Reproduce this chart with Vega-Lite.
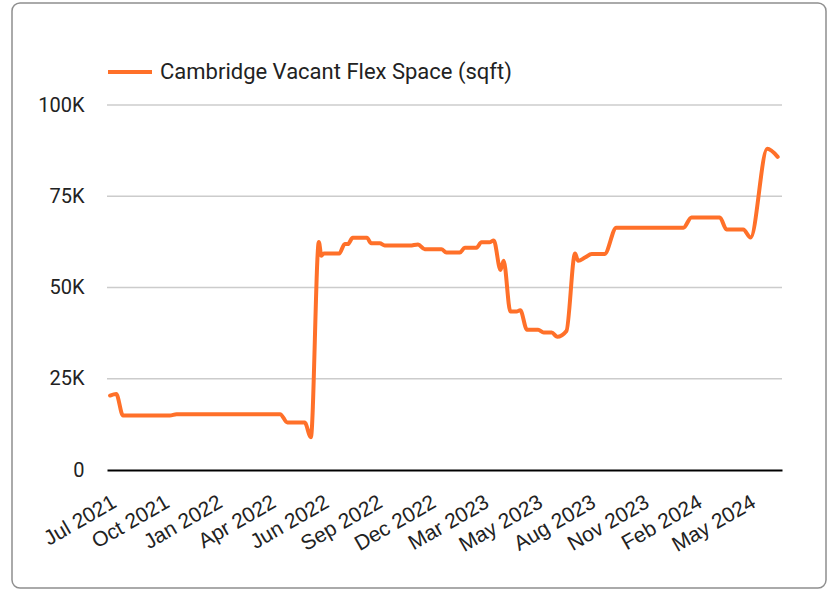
{
  "$schema": "https://vega.github.io/schema/vega-lite/v6.json",
  "width": 814,
  "height": 585,
  "autosize": {"type": "none"},
  "padding": {"left": 12, "top": 3, "right": 4, "bottom": 4},
  "background": "white",
  "config": {
    "view": {"stroke": "#8f8f8f", "strokeWidth": 1.5, "cornerRadius": 8, "fill": "white"},
    "font": "Roboto"
  },
  "layer": [
    {
      "data": {"values": [{"v": 25000}, {"v": 50000}, {"v": 75000}, {"v": 100000}]},
      "mark": {"type": "rule", "color": "#cccccc", "strokeWidth": 1.5},
      "encoding": {
        "y": {"field": "v", "type": "quantitative"},
        "x": {"datum": {"year": 2021, "month": 7, "date": 1}, "type": "temporal"},
        "x2": {"datum": {"year": 2024, "month": 7, "date": 1}}
      }
    },
    {
      "data": {"values": [
        {"date": "2021-07-06", "value": 20400},
        {"date": "2021-07-16", "value": 20800},
        {"date": "2021-07-27", "value": 14900},
        {"date": "2021-10-11", "value": 14900},
        {"date": "2021-10-22", "value": 15300},
        {"date": "2022-04-08", "value": 15300},
        {"date": "2022-04-20", "value": 13000},
        {"date": "2022-05-18", "value": 13000},
        {"date": "2022-05-28", "value": 9000},
        {"date": "2022-06-10", "value": 62500},
        {"date": "2022-06-14", "value": 58700},
        {"date": "2022-06-18", "value": 59300},
        {"date": "2022-07-13", "value": 59300},
        {"date": "2022-07-22", "value": 61900},
        {"date": "2022-07-27", "value": 61900},
        {"date": "2022-08-04", "value": 63600},
        {"date": "2022-08-27", "value": 63600},
        {"date": "2022-09-03", "value": 62100},
        {"date": "2022-09-17", "value": 62100},
        {"date": "2022-09-25", "value": 61500},
        {"date": "2022-11-05", "value": 61500},
        {"date": "2022-11-18", "value": 61800},
        {"date": "2022-11-29", "value": 60500},
        {"date": "2022-12-26", "value": 60500},
        {"date": "2023-01-03", "value": 59600},
        {"date": "2023-01-25", "value": 59600},
        {"date": "2023-02-02", "value": 60900},
        {"date": "2023-02-21", "value": 60900},
        {"date": "2023-03-01", "value": 62400},
        {"date": "2023-03-14", "value": 62400},
        {"date": "2023-03-21", "value": 62900},
        {"date": "2023-04-01", "value": 54800},
        {"date": "2023-04-06", "value": 57300},
        {"date": "2023-04-17", "value": 43400},
        {"date": "2023-04-27", "value": 43400},
        {"date": "2023-05-03", "value": 43800},
        {"date": "2023-05-14", "value": 38400},
        {"date": "2023-06-01", "value": 38400},
        {"date": "2023-06-10", "value": 37700},
        {"date": "2023-06-23", "value": 37700},
        {"date": "2023-07-02", "value": 36500},
        {"date": "2023-07-17", "value": 38100},
        {"date": "2023-07-31", "value": 59300},
        {"date": "2023-08-05", "value": 57300},
        {"date": "2023-08-16", "value": 58200},
        {"date": "2023-08-27", "value": 59200},
        {"date": "2023-09-17", "value": 59200},
        {"date": "2023-10-06", "value": 66400},
        {"date": "2024-01-23", "value": 66400},
        {"date": "2024-02-05", "value": 69200},
        {"date": "2024-03-22", "value": 69200},
        {"date": "2024-04-02", "value": 65900},
        {"date": "2024-04-29", "value": 65900},
        {"date": "2024-05-11", "value": 63700},
        {"date": "2024-06-07", "value": 88000},
        {"date": "2024-06-24", "value": 85800}
      ]},
      "mark": {"type": "line", "interpolate": "monotone", "strokeWidth": 4, "strokeCap": "round", "strokeJoin": "round"},
      "encoding": {
        "x": {
          "field": "date",
          "type": "temporal",
          "scale": {
            "domain": [{"year": 2021, "month": 7, "date": 1}, {"year": 2024, "month": 7, "date": 1}],
            "range": [95, 770],
            "nice": false
          },
          "axis": {
            "title": null,
            "offset": -118,
            "grid": false,
            "ticks": false,
            "domainColor": "#000000",
            "domainWidth": 2,
            "values": [
              {"year": 2021, "month": 7, "date": 4},
              {"year": 2021, "month": 9, "date": 28},
              {"year": 2021, "month": 12, "date": 23},
              {"year": 2022, "month": 3, "date": 20},
              {"year": 2022, "month": 6, "date": 14},
              {"year": 2022, "month": 9, "date": 9},
              {"year": 2022, "month": 12, "date": 5},
              {"year": 2023, "month": 3, "date": 1},
              {"year": 2023, "month": 5, "date": 27},
              {"year": 2023, "month": 8, "date": 21},
              {"year": 2023, "month": 11, "date": 16},
              {"year": 2024, "month": 2, "date": 10},
              {"year": 2024, "month": 5, "date": 7}
            ],
            "labelExpr": "['Jul 2021','Oct 2021','Jan 2022','Apr 2022','Jun 2022','Sep 2022','Dec 2022','Mar 2023','May 2023','Aug 2023','Nov 2023','Feb 2024','May 2024'][round((datum.value - datetime(2021,6,4)) / 7477056000)]",
            "labelAngle": -30,
            "labelAlign": "right",
            "labelBaseline": "top",
            "labelPadding": 21,
            "labelFontSize": 21,
            "labelColor": "#222222",
            "labelFont": "Liberation Sans",
            "labelOverlap": false,
            "labelFlush": false
          }
        },
        "y": {
          "field": "value",
          "type": "quantitative",
          "scale": {"domain": [0, 100000], "range": [467, 102], "nice": false},
          "axis": {
            "title": null,
            "offset": -72,
            "grid": false,
            "domain": false,
            "ticks": false,
            "tickSize": 0,
            "labelPadding": 0,
            "values": [0, 25000, 50000, 75000, 100000],
            "labelExpr": "datum.value == 0 ? '0' : format(datum.value / 1000, 'd') + 'K'",
            "labelFontSize": 20,
            "labelColor": "#222222",
            "labelFont": "Roboto"
          }
        },
        "color": {
          "datum": "Cambridge Vacant Flex Space (sqft)",
          "scale": {"range": ["#ff7029"]},
          "legend": {
            "orient": "none",
            "legendX": 94,
            "legendY": 45,
            "title": null,
            "symbolType": "stroke",
            "symbolSize": 1936,
            "symbolStrokeWidth": 4,
            "labelFontSize": 22,
            "labelFont": "Roboto",
            "labelColor": "#222222",
            "labelOffset": 6,
            "labelLimit": 600,
            "padding": 0
          }
        }
      }
    }
  ]
}
